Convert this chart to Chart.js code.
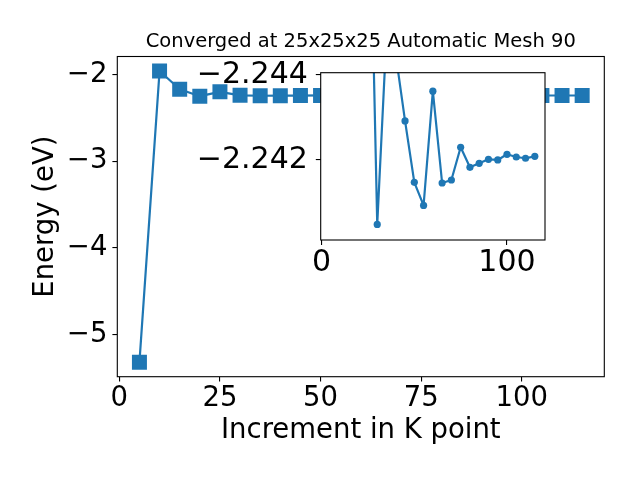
<!DOCTYPE html>
<html>
<head>
<meta charset="utf-8">
<script src="https://cdn.jsdelivr.net/npm/chart.js@4.4.0/dist/chart.umd.min.js"></script>
<style>
  html, body { margin: 0; padding: 0; background: #fff; }
  #wrap { position: relative; width: 640px; height: 480px; }
  #main { position: absolute; left: 0; top: 0; }
  #inset { position: absolute; left: 180px; top: 60px; }
</style>
</head>
<body>
<div id="wrap">
  <canvas id="main" width="640" height="480"></canvas>
  <canvas id="inset" width="400" height="240"></canvas>
</div>
<script>
// K-point mesh increments and total energies (eV)
const kPoints = [5, 10, 15, 20, 25, 30, 35, 40, 45, 50, 55, 60, 65, 70, 75, 80, 85, 90, 95, 100, 105, 110, 115];
const energy = [-5.32, -1.96, -2.17, -2.25, -2.20, -2.240487, -2.244946, -2.24447, -2.242918, -2.241475,
  -2.240933, -2.243616, -2.241459, -2.241529, -2.242298, -2.241827, -2.241922, -2.242016, -2.242,
  -2.242133, -2.24207, -2.24204, -2.242086];
// zoomed view (first points lie outside it)
const energyInset = [null, null, null, null, -2.2504, -2.240487, -2.244946, -2.24447, -2.242918, -2.241475,
  -2.240933, -2.243616, -2.241459, -2.241529, -2.242298, -2.241827, -2.241922, -2.242016, -2.242,
  -2.242133, -2.24207, -2.24204, -2.242086];

const mainXTicks = [0, 25, 50, 75, 100];
const mainYTicks = [-5, -4, -3, -2];
const insetXTicks = [0, 100];
const insetYTicks = [-2.244, -2.242];
const xRange = [-0.5, 120.5];
const insetYRange = [-2.24405, -2.24012];

const BLUE = '#1f77b4';
const TICK_FONT = { family: 'DejaVu Sans', size: 27.5 };
const INSET_FONT = { family: 'DejaVu Sans', size: 30 };
Chart.defaults.font.family = 'DejaVu Sans';
Chart.defaults.color = '#000';

const minus = s => String(s).replace('-', '\u2212');

// y limits with 5% margins, like the original plot
const eMin = Math.min(...energy), eMax = Math.max(...energy);
const pad = (eMax - eMin) * 0.05;

const framePlugin = {
  id: 'frame',
  beforeDraw(chart, args, opts) {
    if (!opts.fill) return;
    const a = chart.chartArea, ctx = chart.ctx;
    ctx.save();
    ctx.fillStyle = '#fff';
    ctx.fillRect(a.left, a.top, a.right - a.left, a.bottom - a.top);
    ctx.restore();
  },
  afterDraw(chart) {
    const a = chart.chartArea, ctx = chart.ctx;
    ctx.save();
    ctx.strokeStyle = '#000';
    ctx.lineWidth = 1.1;
    ctx.strokeRect(a.left, a.top, a.right - a.left, a.bottom - a.top);
    ctx.restore();
  }
};

function fixedTicks(list) {
  return s => { s.ticks = list.map(v => ({ value: v })); };
}

function axis(ticks, extra) {
  return Object.assign({
    type: 'linear',
    border: { display: false },
    grid: { drawOnChartArea: false, drawTicks: true, tickLength: 4.9, color: '#000', lineWidth: 1.1 },
    afterBuildTicks: fixedTicks(ticks),
  }, extra);
}

new Chart(document.getElementById('main'), {
  type: 'line',
  data: {
    datasets: [{
      data: kPoints.map((k, i) => ({ x: k, y: energy[i] })),
      borderColor: BLUE,
      borderWidth: 2.2,
      borderJoinStyle: 'round',
      pointStyle: 'rect',
      pointRadius: 10.6,
      pointBackgroundColor: BLUE,
      pointBorderColor: BLUE,
      pointBorderWidth: 0,
      tension: 0,
    }]
  },
  options: {
    responsive: false,
    animation: false,
    events: [],
    layout: { padding: { top: 0, right: 35.7, bottom: 0, left: 0 } },
    plugins: {
      legend: { display: false },
      tooltip: { enabled: false },
      frame: { fill: false },
      title: {
        display: true,
        fullSize: false,
        text: 'Converged at 25x25x25 Automatic Mesh 90',
        font: { size: 19.5, weight: 'normal' },
        color: '#000',
        padding: { top: 30.7, bottom: 2.4 },
      },
    },
    scales: {
      x: axis(mainXTicks, {
        min: xRange[0], max: xRange[1],
        ticks: { font: TICK_FONT, padding: 1, maxRotation: 0, autoSkip: false, color: '#000' },
        title: { display: true, text: 'Increment in K point', font: TICK_FONT, color: '#000', padding: { top: 0, bottom: 32.5 } },
        afterFit: s => { s.height = 103.3; s.paddingLeft = 0; s.paddingRight = 0; },
      }),
      y: axis(mainYTicks, {
        min: eMin - pad, max: eMax + pad,
        ticks: { font: TICK_FONT, padding: 5, autoSkip: false, color: '#000', callback: v => minus(v) },
        title: { display: true, text: 'Energy (eV)', font: TICK_FONT, color: '#000', padding: { top: 29.5, bottom: 0 } },
        afterFit: s => { s.width = 117.3; s.paddingTop = 0; s.paddingBottom = 0; },
      }),
    },
  },
  plugins: [framePlugin],
});

new Chart(document.getElementById('inset'), {
  type: 'line',
  data: {
    datasets: [{
      data: kPoints.map((k, i) => ({ x: k, y: energyInset[i] })),
      borderColor: BLUE,
      borderWidth: 2.2,
      borderJoinStyle: 'round',
      pointStyle: 'circle',
      pointRadius: 3.6,
      pointBackgroundColor: BLUE,
      pointBorderColor: BLUE,
      pointBorderWidth: 0,
      spanGaps: false,
      clip: 0,
      tension: 0,
    }]
  },
  options: {
    responsive: false,
    animation: false,
    events: [],
    layout: { padding: { top: 12.7, right: 35, bottom: 0, left: 0 } },
    plugins: {
      legend: { display: false },
      tooltip: { enabled: false },
      frame: { fill: true },
    },
    scales: {
      x: axis(insetXTicks, {
        min: xRange[0], max: xRange[1],
        ticks: { font: INSET_FONT, padding: 0, maxRotation: 0, autoSkip: false, color: '#000' },
        afterFit: s => { s.height = 60; s.paddingLeft = 0; s.paddingRight = 0; },
      }),
      y: axis(insetYTicks, {
        min: insetYRange[0], max: insetYRange[1],
        reverse: true,
        ticks: { font: INSET_FONT, padding: 8, autoSkip: false, color: '#000', callback: v => minus(v.toFixed(3)) },
        afterFit: s => { s.width = 140.7; s.paddingTop = 0; s.paddingBottom = 0; },
      }),
    },
  },
  plugins: [framePlugin],
});
</script>
</body>
</html>
